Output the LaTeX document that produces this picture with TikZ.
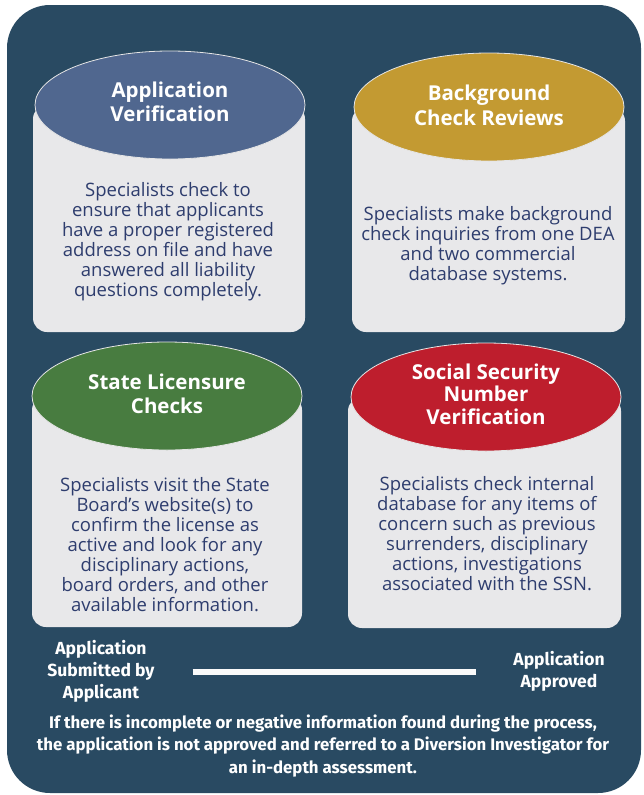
\documentclass[tikz,border=0pt]{standalone}
\usepackage{fontspec}
\setmainfont{Open Sans}
\newfontfamily\notefont{Fira Sans}
\usetikzlibrary{shapes.geometric}

\definecolor{panel}{RGB}{41,74,98}
\definecolor{cardgrey}{RGB}{232,232,234}
\definecolor{bodyink}{RGB}{46,61,110}
\definecolor{capblue}{RGB}{80,103,143}
\definecolor{capgold}{RGB}{195,154,50}
\definecolor{capgreen}{RGB}{72,124,64}
\definecolor{capred}{RGB}{190,30,45}

\tikzset{
  cardbox/.style={fill=cardgrey, rounded corners=14pt},
  capshape/.style={ellipse, draw=white!80!gray, line width=0.8pt, inner sep=0pt,
    minimum width=270pt, minimum height=108pt},
  captext/.style={text=white, align=center, inner sep=0pt,
    font=\fontsize{20.5}{24.5}\selectfont\bfseries},
  bodytext/.style={text=bodyink, align=center, inner sep=0pt,
    font=\fontsize{18.5}{20}\selectfont},
  notetext/.style={text=white, align=center, inner sep=0pt,
    font=\notefont\fontsize{17.5}{22}\selectfont\bfseries},
  timeline/.style={draw=white!96!gray, line width=6pt}
}

\begin{document}
\begin{tikzpicture}[x=1pt,y=-1pt]
\useasboundingbox (0,0) rectangle (643,795);
\fill[white] (0,0) rectangle (643,795);
\fill[panel, rounded corners=43pt] (7,5) rectangle (641,793);

% card bodies
\fill[cardbox] (33,105) rectangle (305,332);
\fill[cardbox] (352,107) rectangle (625,332);
\fill[cardbox] (32,396) rectangle (302,627);
\fill[cardbox] (348,397) rectangle (621,628);

% card caps with their headings
\node[capshape, fill=capblue]  (t1) at (170,105) {};
\node[capshape, fill=capgold]  (t2) at (489,107) {};
\node[capshape, fill=capgreen] (t3) at (167,396) {};
\node[capshape, fill=capred]   (t4) at (486,397) {};
\node[captext] (h1) at (170,102) {Application\\Verification};
\node[captext] (h2) at (489,105.5) {Background\\Check Reviews};
\node[captext] (h3) at (167,394) {State Licensure\\Checks};
\node[captext, font=\fontsize{20.5}{22.5}\selectfont\bfseries]
  (h4) at (486,394) {Social Security\\Number\\Verification};

% card texts
\node[bodytext] (b1) at (168,241.5) {Specialists check to\\ensure that applicants\\have a proper registered\\address on file and have\\answered all liability\\questions completely.};
\node[bodytext] (b2) at (488,245.5) {Specialists make background\\check inquiries from one DEA\\and two commercial\\database systems.};
\node[bodytext] (b3) at (165,545) {Specialists visit the State\\Board’s website(s) to\\confirm the license as\\active and look for any\\disciplinary actions,\\board orders, and other\\available information.};
\node[bodytext] (b4) at (487,533.5) {Specialists check internal\\database for any items of\\concern such as previous\\surrenders, disciplinary\\actions, investigations\\associated with the SSN.};

% process line
\node[notetext] (start) at (101,671.5) {Application\\Submitted by\\Applicant};
\node[notetext] (end) at (559,671.5) {Application\\Approved};
\draw[timeline, shorten <=38pt, shorten >=37pt] (start) -- (end);

\node[notetext, font=\notefont\fontsize{16.8}{22.5}\selectfont\bfseries] (remark) at (323,746) {If there is incomplete or negative information found during the process,\\the application is not approved and referred to a Diversion Investigator for\\an in-depth assessment.};
\end{tikzpicture}
\end{document}
